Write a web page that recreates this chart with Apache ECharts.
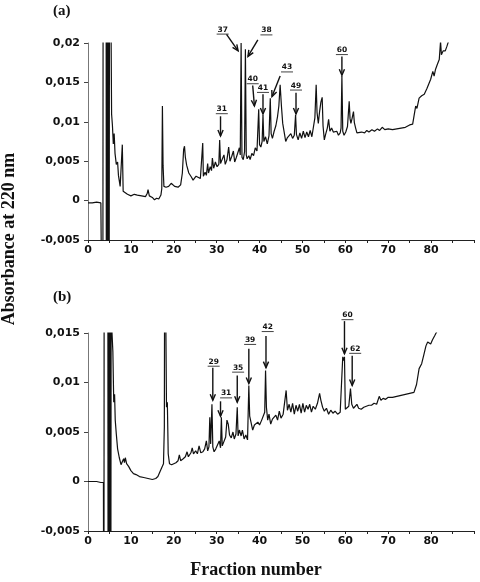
<!DOCTYPE html>
<html>
<head>
<meta charset="utf-8">
<script src="https://cdn.jsdelivr.net/npm/echarts@6/dist/echarts.min.js"></script>
<style>
  html, body { margin: 0; padding: 0; background: #fff; }
  #chart { width: 480px; height: 582px; }
</style>
</head>
<body>
<div id="chart"></div>
<script>
// panel (a): fraction number vs absorbance
const fracA = [0,1,2,3,3.4,3.45,3.55,4.2,4.3,4.45,4.6,4.75,4.9,5.05,5.5,5.7,5.9,6.1,6.3,6.6,6.9,7.1,7.5,7.8,8.0,8.2,8.6,9.2,10,10.8,11.1,11.5,12.5,13.4,13.8,14.0,14.3,15,15.5,16,16.5,17,17.2,17.35,17.5,17.7,18.2,18.8,19.4,19.8,20.2,21,21.6,22.0,22.3,22.5,22.7,23.0,23.5,24.1,24.5,25.2,25.6,26.2,26.6,26.75,26.9,27.3,27.6,27.9,28.1,28.5,28.8,29.0,29.3,29.7,30.1,30.5,30.7,30.9,31.3,31.7,32.0,32.4,32.8,33.1,33.5,33.9,34.2,34.6,35.0,35.3,35.5,35.7,35.9,36.2,36.5,36.7,36.9,37.1,37.5,37.8,38.2,38.6,39.0,39.4,39.8,40.0,40.3,40.6,40.8,41.0,41.4,41.8,42.2,42.5,42.7,43.0,43.4,43.8,44.2,44.5,44.8,45.1,45.4,45.8,46.1,46.5,46.9,47.3,47.7,48.1,48.4,48.6,49.0,49.4,49.8,50.2,50.6,51.0,51.4,51.8,52.2,52.6,52.9,53.2,53.4,53.7,54.0,54.3,54.6,54.8,55.1,55.4,55.8,56.1,56.4,56.8,57.2,57.6,58.0,58.4,58.8,59.0,59.2,59.4,59.7,60.1,60.5,60.9,61.1,61.3,61.6,61.9,62.1,62.4,62.7,63.0,63.8,64.5,65.0,65.5,66.2,66.8,67.5,68.0,68.6,69.2,70,71,72,73,74,75,75.7,76.0,76.4,76.7,77.2,77.8,78.4,79.0,79.9,80.4,80.7,81.0,81.4,81.9,82.2,82.4,82.8,83.3,83.7,84.1];
const absA = [-0.0003,-0.0003,-0.0002,-0.0003,-0.0003,-0.03,0.05,0.05,-0.03,0.05,-0.03,0.05,-0.03,0.05,0.011,0.0095,0.0072,0.0085,0.006,0.0046,0.0049,0.0032,0.0018,0.0016,0.0071,0.0012,0.001,0.0008,0.0006,0.0008,0.001,0.0007,0.0006,0.0005,0.0009,0.0014,0.0006,0.0004,0.0001,0.0003,0.0002,0.0007,0.0015,0.012,0.0045,0.0018,0.0017,0.0018,0.0022,0.0024,0.0018,0.0017,0.002,0.0035,0.0065,0.0069,0.0055,0.0045,0.0035,0.003,0.0026,0.0031,0.0029,0.0028,0.003,0.0073,0.0031,0.0036,0.0032,0.0047,0.0035,0.0043,0.0038,0.0054,0.0041,0.0049,0.0043,0.0046,0.0077,0.0047,0.0049,0.0058,0.0046,0.0052,0.0068,0.005,0.0056,0.0063,0.0049,0.0055,0.0053,0.0067,0.0058,0.0200,0.0055,0.0052,0.0062,0.0192,0.0058,0.0053,0.0057,0.0052,0.006,0.0057,0.0067,0.0063,0.0116,0.0071,0.0068,0.0075,0.0109,0.0075,0.0081,0.0072,0.0082,0.0130,0.0085,0.0079,0.0088,0.0095,0.0107,0.012,0.0147,0.012,0.0098,0.0085,0.0075,0.008,0.0078,0.0085,0.0079,0.0083,0.0109,0.0084,0.0077,0.0086,0.0079,0.0088,0.008,0.0087,0.0081,0.0089,0.0081,0.0083,0.0105,0.0147,0.0112,0.0098,0.0113,0.0125,0.0131,0.0095,0.0077,0.0084,0.0092,0.0103,0.0088,0.0092,0.0087,0.0085,0.0088,0.0083,0.0086,0.0092,0.0158,0.0088,0.0083,0.0087,0.0094,0.0126,0.0104,0.0098,0.0105,0.0113,0.0099,0.0092,0.0086,0.0086,0.0087,0.0086,0.0089,0.0087,0.009,0.0088,0.0091,0.0089,0.0093,0.009,0.0091,0.009,0.0091,0.0092,0.0093,0.0096,0.0097,0.0107,0.012,0.0117,0.013,0.0133,0.0135,0.0142,0.0154,0.0164,0.0158,0.0166,0.0172,0.0179,0.0202,0.0185,0.019,0.019,0.0196,0.0203];

// panel (b)
const fracB = [0,1,2,3,3.6,3.7,3.8,4.6,4.7,4.85,5.0,5.15,5.3,5.45,5.6,5.8,6.0,6.2,6.35,6.6,6.9,7.3,7.7,8.0,8.3,8.5,8.7,9.0,9.5,10,10.6,11.2,11.5,12,13,14,15,15.8,16.3,16.8,17.2,17.6,17.8,17.9,18.2,18.3,18.5,18.7,19.0,19.5,20.0,20.5,21.0,21.3,21.6,22.2,22.7,23.1,23.4,24,24.3,24.6,25.1,25.5,25.9,26.3,26.8,27.2,27.6,27.9,28.2,28.4,28.6,28.9,29.1,29.4,29.8,30.2,30.6,30.9,31.1,31.3,31.7,32.1,32.4,32.7,33.0,33.4,33.8,34.1,34.5,34.8,35.0,35.3,35.7,36.0,36.4,36.8,37.2,37.5,37.7,38.0,38.4,38.8,39.2,39.6,40.0,40.5,40.9,41.2,41.4,41.6,41.9,42.2,42.6,43.0,43.4,43.8,44.2,44.6,45.0,45.5,45.9,46.2,46.5,46.9,47.3,47.7,48.1,48.5,48.9,49.3,49.7,50.1,50.5,50.9,51.3,51.7,52.1,52.5,53.0,53.5,54.0,54.3,54.7,55.1,55.6,56.1,56.6,57.1,57.6,58.2,58.8,59.2,59.4,59.6,59.8,60.0,60.4,60.8,61.0,61.2,61.5,61.9,62.3,62.7,63.1,63.7,64.3,64.9,65.5,66.1,66.7,67.3,67.9,68.3,68.8,69.4,70.0,71,72,73,74,75,76.0,76.6,77.2,77.8,78.3,78.8,79.2,79.6,79.9,80.3,80.8,81.4,81.8];
const absB = [0,0,0,-0.0001,-0.0001,-0.03,0.05,0.05,-0.03,0.05,-0.03,0.05,-0.03,0.05,0.015,0.0131,0.008,0.0088,0.0062,0.0048,0.0033,0.0024,0.0017,0.0015,0.0023,0.0019,0.0024,0.0018,0.0015,0.0011,0.0008,0.0007,0.0009,0.0005,0.0004,0.0003,0.0002,0.0003,0.0005,0.001,0.0009,0.0018,0.0055,0.03,0.03,0.0075,0.008,0.0028,0.0018,0.0017,0.0018,0.0019,0.0021,0.0027,0.0021,0.0023,0.0025,0.003,0.0025,0.0029,0.0034,0.0028,0.0031,0.0028,0.0036,0.0029,0.003,0.0033,0.0041,0.0031,0.0035,0.0065,0.0038,0.0078,0.0035,0.003,0.0033,0.0035,0.0041,0.0034,0.0065,0.0036,0.0038,0.0045,0.0062,0.0058,0.0047,0.0044,0.005,0.0043,0.0048,0.0075,0.0046,0.0052,0.0046,0.0052,0.0043,0.0047,0.0042,0.0097,0.0066,0.006,0.0052,0.0057,0.0055,0.006,0.0057,0.0062,0.0064,0.007,0.0112,0.0075,0.0062,0.0068,0.0058,0.0063,0.0061,0.0067,0.0062,0.0071,0.0064,0.0068,0.0066,0.0092,0.0072,0.0078,0.007,0.0079,0.0068,0.0077,0.0071,0.0078,0.0069,0.0079,0.007,0.0077,0.0073,0.0078,0.007,0.0076,0.0073,0.0079,0.0089,0.0082,0.0075,0.0071,0.0074,0.0068,0.0072,0.0069,0.0071,0.0068,0.007,0.0072,0.0126,0.0122,0.0126,0.0073,0.0074,0.0076,0.0085,0.0094,0.0078,0.0074,0.0076,0.0078,0.0074,0.0073,0.0075,0.0076,0.0077,0.0077,0.0079,0.0078,0.0086,0.0082,0.0084,0.0083,0.0085,0.0085,0.0086,0.0087,0.0088,0.0089,0.009,0.0098,0.0114,0.0119,0.0128,0.0137,0.0141,0.0142,0.0139,0.0143,0.0147,0.0152,0.0155];

// peak annotations: label, label centre, arrow tail, arrow tip (data units)
const peakLabelsA = ['31', '37', '38', '40', '41', '43', '49', '60'];
const labelPosA = [[31.2, 0.0116], [31.4, 0.0217], [41.6, 0.0216], [38.4, 0.0154], [40.8, 0.0143], [46.4, 0.0169], [48.5, 0.0146], [59.2, 0.0191]];
const arrowFromA = [[30.9, 0.0107], [32.3, 0.0211], [39.6, 0.0204], [38.4, 0.0146], [40.8, 0.0135], [44.8, 0.0158], [48.5, 0.0137], [59.2, 0.0183]];
const arrowToA = [[30.9, 0.0082], [35.0, 0.0190], [37.3, 0.0183], [38.8, 0.0120], [40.8, 0.0110], [42.9, 0.0132], [48.5, 0.0110], [59.2, 0.0159]];

const peakLabelsB = ['29', '31', '35', '39', '42', '60', '62'];
const labelPosB = [[29.3, 0.0121], [32.2, 0.0089], [35.0, 0.0115], [37.8, 0.0143], [41.9, 0.0156], [60.5, 0.0168], [62.3, 0.0134]];
const arrowFromB = [[29.1, 0.0115], [30.9, 0.0081], [34.8, 0.0107], [37.5, 0.0134], [41.5, 0.0147], [59.8, 0.0162], [61.6, 0.0127]];
const arrowToB = [[29.1, 0.0082], [30.9, 0.0066], [34.8, 0.0080], [37.5, 0.0099], [41.5, 0.0115], [59.8, 0.0129], [61.6, 0.0097]];

const xTicks = { min: 0, max: 90, interval: 5 };

const chart = echarts.init(document.getElementById('chart'));

const tickFont = { fontFamily: 'DejaVu Sans', fontWeight: 'bold', fontSize: 11, color: '#111' };

function xAxisFor(gridIndex, margin) {
  return {
    type: 'value', gridIndex: gridIndex,
    min: xTicks.min, max: xTicks.max, interval: xTicks.interval,
    axisLine: { onZero: false, lineStyle: { color: '#222', width: 1.2 } },
    axisTick: { show: true, length: 3, lineStyle: { color: '#222' } },
    axisLabel: Object.assign({ margin: margin, formatter: v => (v % 10 === 0 && v < 90) ? String(v) : '' }, tickFont),
    splitLine: { show: false }
  };
}

function yAxisFor(gridIndex, max) {
  return {
    type: 'value', gridIndex: gridIndex,
    min: -0.005, max: max, interval: 0.005,
    axisLine: { show: true, lineStyle: { color: '#777', width: 1 } },
    axisTick: { show: true, length: 4, lineStyle: { color: '#444' } },
    axisLabel: Object.assign({ margin: 8, formatter: v => String(+v.toFixed(3)).replace('.', ',') }, tickFont),
    splitLine: { show: false }
  };
}

const lineStyle = { color: '#111', width: 1.2 };

chart.setOption({
  animation: false,
  backgroundColor: '#fff',
  grid: [
    { left: 88, right: 6, top: 43, bottom: 342 },
    { left: 88, right: 6, top: 333, bottom: 51 }
  ],
  xAxis: [xAxisFor(0, 5), xAxisFor(1, 5)],
  yAxis: [yAxisFor(0, 0.02), yAxisFor(1, 0.015)],
  series: [
    {
      type: 'line', xAxisIndex: 0, yAxisIndex: 0, clip: true,
      showSymbol: false, lineStyle: lineStyle,
      data: fracA.map((x, i) => [x, absA[i]])
    },
    {
      type: 'line', xAxisIndex: 1, yAxisIndex: 1, clip: true,
      showSymbol: false, lineStyle: lineStyle,
      data: fracB.map((x, i) => [x, absB[i]])
    }
  ]
});

// arrows + underlined labels, placed through the axes' scales
function annotations(gridIndex, labels, pos, from, to) {
  const out = [];
  labels.forEach((lab, i) => {
    const p = chart.convertToPixel({ gridIndex: gridIndex }, pos[i]);
    const a = chart.convertToPixel({ gridIndex: gridIndex }, from[i]);
    const b = chart.convertToPixel({ gridIndex: gridIndex }, to[i]);
    const ang = Math.atan2(b[1] - a[1], b[0] - a[0]);
    const hl = 6, hw = 2.6;
    const back = [b[0] - hl * Math.cos(ang), b[1] - hl * Math.sin(ang)];
    const nx = -Math.sin(ang), ny = Math.cos(ang);
    out.push({
      type: 'line', silent: true,
      shape: { x1: a[0], y1: a[1], x2: b[0], y2: b[1] },
      style: { stroke: '#111', lineWidth: 1.4 }
    });
    out.push({
      type: 'polyline', silent: true,
      shape: { points: [[back[0] + nx * hw, back[1] + ny * hw], b, [back[0] - nx * hw, back[1] - ny * hw]] },
      style: { stroke: '#111', lineWidth: 1.4, fill: null }
    });
    out.push({
      type: 'text', silent: true, x: p[0], y: p[1],
      style: {
        text: lab, align: 'center', verticalAlign: 'middle',
        font: 'bold 7.5px "DejaVu Sans"', fill: '#111'
      }
    });
    out.push({
      type: 'line', silent: true,
      shape: { x1: p[0] - 6, y1: p[1] + 4.5, x2: p[0] + 6, y2: p[1] + 4.5 },
      style: { stroke: '#111', lineWidth: 0.8 }
    });
  });
  return out;
}

const serif = '"Liberation Serif", "Times New Roman", serif';

chart.setOption({
  graphic: [
    { type: 'text', left: 53, top: 4, style: { text: '(a)', font: 'bold 15px ' + serif, fill: '#111' } },
    { type: 'text', left: 53, top: 290, style: { text: '(b)', font: 'bold 15px ' + serif, fill: '#111' } },
    {
      type: 'text', x: 9, y: 239, rotation: Math.PI / 2,
      style: { text: 'Absorbance at 220 nm', font: 'bold 18px ' + serif, fill: '#111', align: 'center', verticalAlign: 'middle' }
    },
    {
      type: 'text', x: 256, y: 570,
      style: { text: 'Fraction number', font: 'bold 18px ' + serif, fill: '#111', align: 'center', verticalAlign: 'middle' }
    }
  ].concat(
    annotations(0, peakLabelsA, labelPosA, arrowFromA, arrowToA),
    annotations(1, peakLabelsB, labelPosB, arrowFromB, arrowToB)
  )
});

window.addEventListener('resize', () => {
  chart.resize();
});
</script>
</body>
</html>
